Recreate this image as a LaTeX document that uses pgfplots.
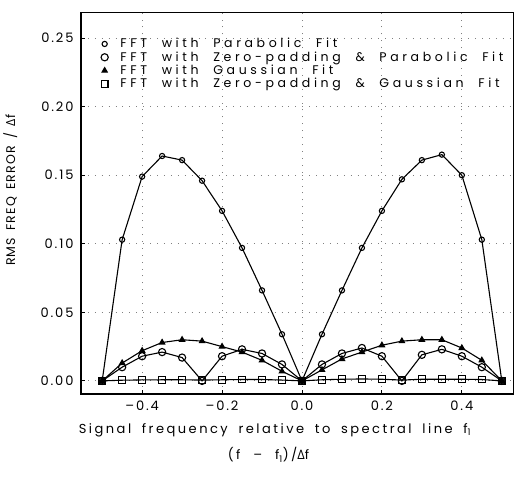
\documentclass[border=0pt]{standalone}
\usepackage{fontspec}
\setmainfont{Poppins}[LetterSpace=19,WordSpace=1.8]
\newfontfamily\tickfont{Poppins}[LetterSpace=14]
\newfontfamily\ylabfont{Poppins}[LetterSpace=10,WordSpace=1.5]
\newfontfamily\legfont{Poppins}[LetterSpace=29,WordSpace=2.1]
\newfontfamily\grk{Open Sans}
\usepackage{pgfplots}
\pgfplotsset{compat=1.18}

\newcommand{\Df}{{\grk Δ}f}

\begin{document}
\begin{tikzpicture}
\begin{axis}[
  scale only axis,
  width=431pt, height=381pt,
  xmin=-0.553, xmax=0.528,
  ymin=-0.0095, ymax=0.269,
  xtick={-0.4,-0.2,0,0.2,0.4},
  xticklabels={–0.4,–0.2,0.0,0.2,0.4},
  ytick={0,0.05,0.10,0.15,0.20,0.25},
  yticklabels={0.00,0.05,0.10,0.15,0.20,0.25},
  tick align=inside,
  xtick pos=left, ytick pos=left,
  major tick length=4pt,
  tick style={line width=0.9pt,black},
  tick label style={font=\tickfont\fontsize{13}{15}\selectfont},
  yticklabel style={xshift=-4pt},
  xticklabel style={yshift=-3pt},
  grid=major,
  grid style={black!50, line width=0.9pt, dash pattern=on 0.9pt off 6pt},
  axis line style={line width=0.6pt},
  xlabel={Signal frequency relative to spectral line f\textsubscript{1}},
  xlabel style={font=\fontsize{13}{15}\selectfont, at={(axis description cs:0.449,-0.094)}, anchor=center},
  ylabel={\ylabfont RMS FREQ ERROR / \Df},
  ylabel style={font=\fontsize{12.5}{14}\selectfont, at={(axis description cs:-0.1636,0.533)}, anchor=center},
  legend style={draw=none, fill=none, at={(axis description cs:0.046,0.934)}, anchor=north west,
    font=\legfont\fontsize{12.5}{14}\selectfont, row sep=0.3pt, inner sep=0pt,
    nodes={inner sep=1pt}},
  legend cell align=left,
  legend image code/.code={\path (0cm,0cm) (0.6cm,0cm);
    \draw[#1] plot[only marks] coordinates {(0.1cm,0cm)};},
  every axis plot/.append style={black, line width=1.1pt},
  after end axis/.code={
    \draw[line width=1.8pt] (rel axis cs:0,1) -- (rel axis cs:0,0) -- (rel axis cs:1,0);
    \node[font=\fontsize{13}{15}\selectfont] at (axis description cs:0.434,-0.160) {(f \,–\, f\textsubscript{1})/\Df};
    \path (rel axis cs:1,1) ++(5pt,12pt) (rel axis cs:1,0) ++(0,-89pt);
  },
]
% FFT with parabolic fit
\addplot[mark=o, mark size=2.6pt, mark options={line width=1.1pt}] coordinates {
  (-0.50,0.000) (-0.45,0.103) (-0.40,0.149) (-0.35,0.164) (-0.30,0.161)
  (-0.25,0.146) (-0.20,0.124) (-0.15,0.097) (-0.10,0.066) (-0.05,0.034)
  (0.00,0.000) (0.05,0.034) (0.10,0.066) (0.15,0.097) (0.20,0.124)
  (0.25,0.147) (0.30,0.161) (0.35,0.165) (0.40,0.150) (0.45,0.103) (0.50,0.000)};
\addlegendentry{FFT with Parabolic Fit}
% FFT with zero-padding and parabolic fit
\addplot[mark=o, mark size=3.6pt, mark options={line width=1.1pt}] coordinates {
  (-0.50,0.000) (-0.45,0.010) (-0.40,0.018) (-0.35,0.021) (-0.30,0.017)
  (-0.25,0.000) (-0.20,0.018) (-0.15,0.023) (-0.10,0.020) (-0.05,0.012)
  (0.00,0.000) (0.05,0.012) (0.10,0.020) (0.15,0.024) (0.20,0.018)
  (0.25,0.000) (0.30,0.019) (0.35,0.023) (0.40,0.018) (0.45,0.010) (0.50,0.000)};
\addlegendentry{FFT with Zero-padding \& Parabolic Fit}
% FFT with Gaussian fit
\addplot[mark=triangle*, mark size=3pt, mark options={fill=black}] coordinates {
  (-0.50,0.000) (-0.45,0.013) (-0.40,0.022) (-0.35,0.028) (-0.30,0.030)
  (-0.25,0.029) (-0.20,0.025) (-0.15,0.021) (-0.10,0.015) (-0.05,0.007)
  (0.00,0.000) (0.05,0.008) (0.10,0.016) (0.15,0.021) (0.20,0.026)
  (0.25,0.029) (0.30,0.030) (0.35,0.030) (0.40,0.024) (0.45,0.015) (0.50,0.000)};
\addlegendentry{FFT with Gaussian Fit}
% FFT with zero-padding and Gaussian fit
\addplot[mark=square, mark size=3.3pt, mark options={line width=1.1pt}] coordinates {
  (-0.50,0.000) (-0.45,0.0005) (-0.40,0.0007) (-0.35,0.0008) (-0.30,0.0008)
  (-0.25,0.0006) (-0.20,0.0008) (-0.15,0.0010) (-0.10,0.0010) (-0.05,0.0006)
  (0.00,0.000) (0.05,0.0008) (0.10,0.0012) (0.15,0.0014) (0.20,0.0012)
  (0.25,0.0006) (0.30,0.0012) (0.35,0.0012) (0.40,0.0012) (0.45,0.0010) (0.50,0.000)};
\addlegendentry{FFT with Zero-padding \& Gaussian Fit}
\end{axis}
\end{tikzpicture}
\end{document}
